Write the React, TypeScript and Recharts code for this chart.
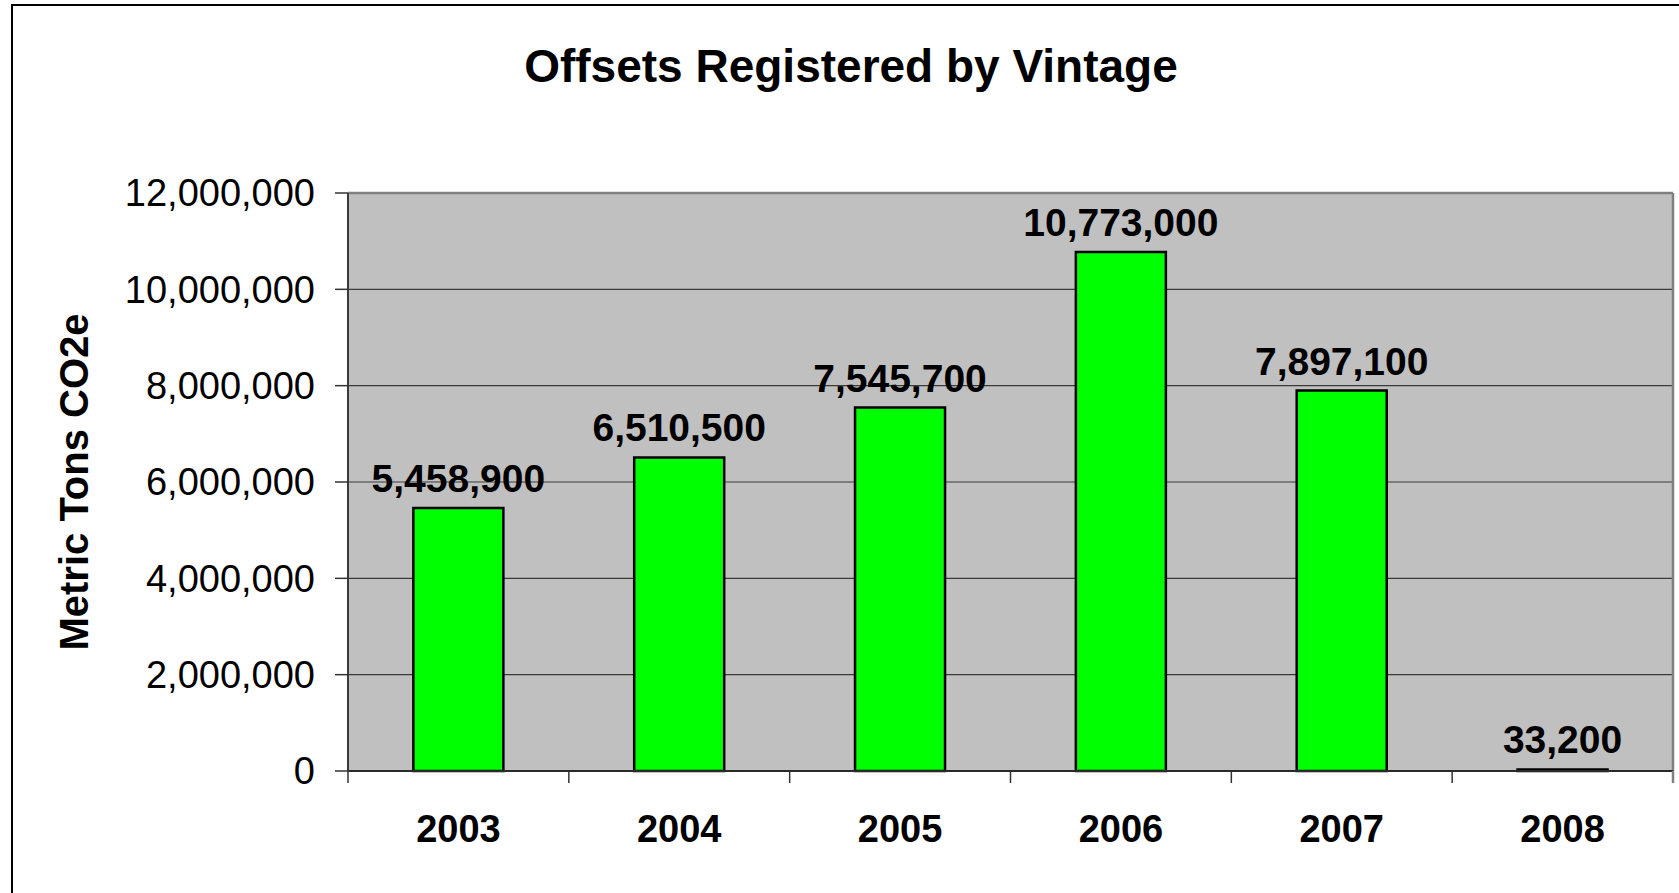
import React from 'react';
import { BarChart, Bar, XAxis, YAxis, CartesianGrid, LabelList, ReferenceLine } from 'recharts';

const years = ['2003', '2004', '2005', '2006', '2007', '2008'];
const offsets = [5458900, 6510500, 7545700, 10773000, 7897100, 33200];
const yTicks = [0, 2000000, 4000000, 6000000, 8000000, 10000000, 12000000];

const data = years.map((y, i) => ({ year: y, value: offsets[i] }));

const FONT = '"Liberation Sans", Arial, Helvetica, sans-serif';
const fmt = (v: number) => v.toLocaleString('en-US');

const X_TICK_SIZE = 12;
const X_TICK_MARGIN = 32;

const XTick = (props: any) => {
  const { x, y, payload, index, visibleTicksCount, width } = props;
  const half =
    payload && typeof payload.offset === 'number' && payload.offset > 0
      ? payload.offset
      : Number(width) / Number(visibleTicksCount) / 2;
  const axisY = Number(y) - X_TICK_SIZE - X_TICK_MARGIN;
  const left = Number(x) - half;
  const right = Number(x) + half;
  const isLast = index === visibleTicksCount - 1;
  return (
    <g>
      <line x1={left} x2={left} y1={axisY} y2={axisY + X_TICK_SIZE} stroke="#333" strokeWidth={1.5} />
      {isLast && (
        <line x1={right} x2={right} y1={axisY} y2={axisY + X_TICK_SIZE} stroke="#808080" strokeWidth={2.5} />
      )}
      <text
        x={x}
        y={y}
        dy="0.71em"
        textAnchor="middle"
        fontFamily={FONT}
        fontWeight="bold"
        fontSize={38}
        fill="#000"
      >
        {payload.value}
      </text>
    </g>
  );
};

const renderValueLabel = (props: any) => {
  const { x, y, width, value } = props;
  return (
    <text
      x={Number(x) + Number(width) / 2}
      y={Number(y) - 16}
      textAnchor="middle"
      fontFamily={FONT}
      fontWeight="bold"
      fontSize={39}
      fill="#000"
    >
      {fmt(Number(value))}
    </text>
  );
};

const renderYTitle = (props: any) => {
  const vb = props.viewBox || { x: 0, y: 0, width: 0, height: 0 };
  const cx = vb.x + 74;
  const cy = vb.y + vb.height / 2;
  return (
    <text
      x={cx}
      y={cy}
      transform={`rotate(-90, ${cx}, ${cy})`}
      textAnchor="middle"
      dominantBaseline="central"
      fontFamily={FONT}
      fontWeight="bold"
      fontSize={40}
      fill="#000"
    >
      Metric Tons CO2e
    </text>
  );
};

export default function App() {
  return (
    <div style={{ position: 'absolute', left: 0, top: 0, width: 1679, height: 893, background: '#fff', overflow: 'hidden' }}>
      <div
        style={{
          position: 'absolute',
          left: 11,
          top: 4,
          width: 1679,
          height: 900,
          borderLeft: '2px solid #000',
          borderTop: '2px solid #000',
        }}
      />
      <div
        style={{
          position: 'absolute',
          left: 451,
          width: 800,
          top: 43,
          textAlign: 'center',
          fontFamily: FONT,
          fontWeight: 'bold',
          fontSize: 46,
          lineHeight: '46px',
          color: '#000',
        }}
      >
        Offsets Registered by Vintage
      </div>
      <div style={{ position: 'absolute', left: 0, top: 0 }}>
        <BarChart
          width={1679}
          height={893}
          data={data}
          margin={{ top: 193, right: 6, bottom: 121, left: 0 }}
          barCategoryGap="29.6%"
        >
          <CartesianGrid
            vertical={false}
            stroke="#3a3a3a"
            strokeWidth={1.2}
            fill="#C0C0C0"
            fillOpacity={1}
          />
          <CartesianGrid
            horizontal={false}
            stroke="#808080"
            strokeWidth={2.5}
            fill="none"
            verticalCoordinatesGenerator={({ offset }: any) => [offset.left + offset.width]}
          />
          <XAxis
            dataKey="year"
            height={1}
            tickLine={false}
            tickSize={X_TICK_SIZE}
            tickMargin={X_TICK_MARGIN}
            axisLine={{ stroke: '#2a2a2a', strokeWidth: 2 }}
            tick={<XTick />}
            interval={0}
          />
          <YAxis
            width={348}
            domain={[0, 12000000]}
            ticks={yTicks}
            tickFormatter={fmt}
            tickSize={13}
            tickMargin={20}
            tickLine={{ stroke: '#333', strokeWidth: 1.5 }}
            axisLine={{ stroke: '#3a3a3a', strokeWidth: 2 }}
            tick={{ fontFamily: FONT, fontSize: 38, fill: '#000' }}
            label={renderYTitle}
          />
          <ReferenceLine y={12000000} stroke="#808080" strokeWidth={2.5} />
          <Bar
            dataKey="value"
            fill="#00FF00"
            stroke="#000"
            strokeWidth={2.5}
            isAnimationActive={false}
          >
            <LabelList dataKey="value" content={renderValueLabel} />
          </Bar>
        </BarChart>
      </div>
    </div>
  );
}
